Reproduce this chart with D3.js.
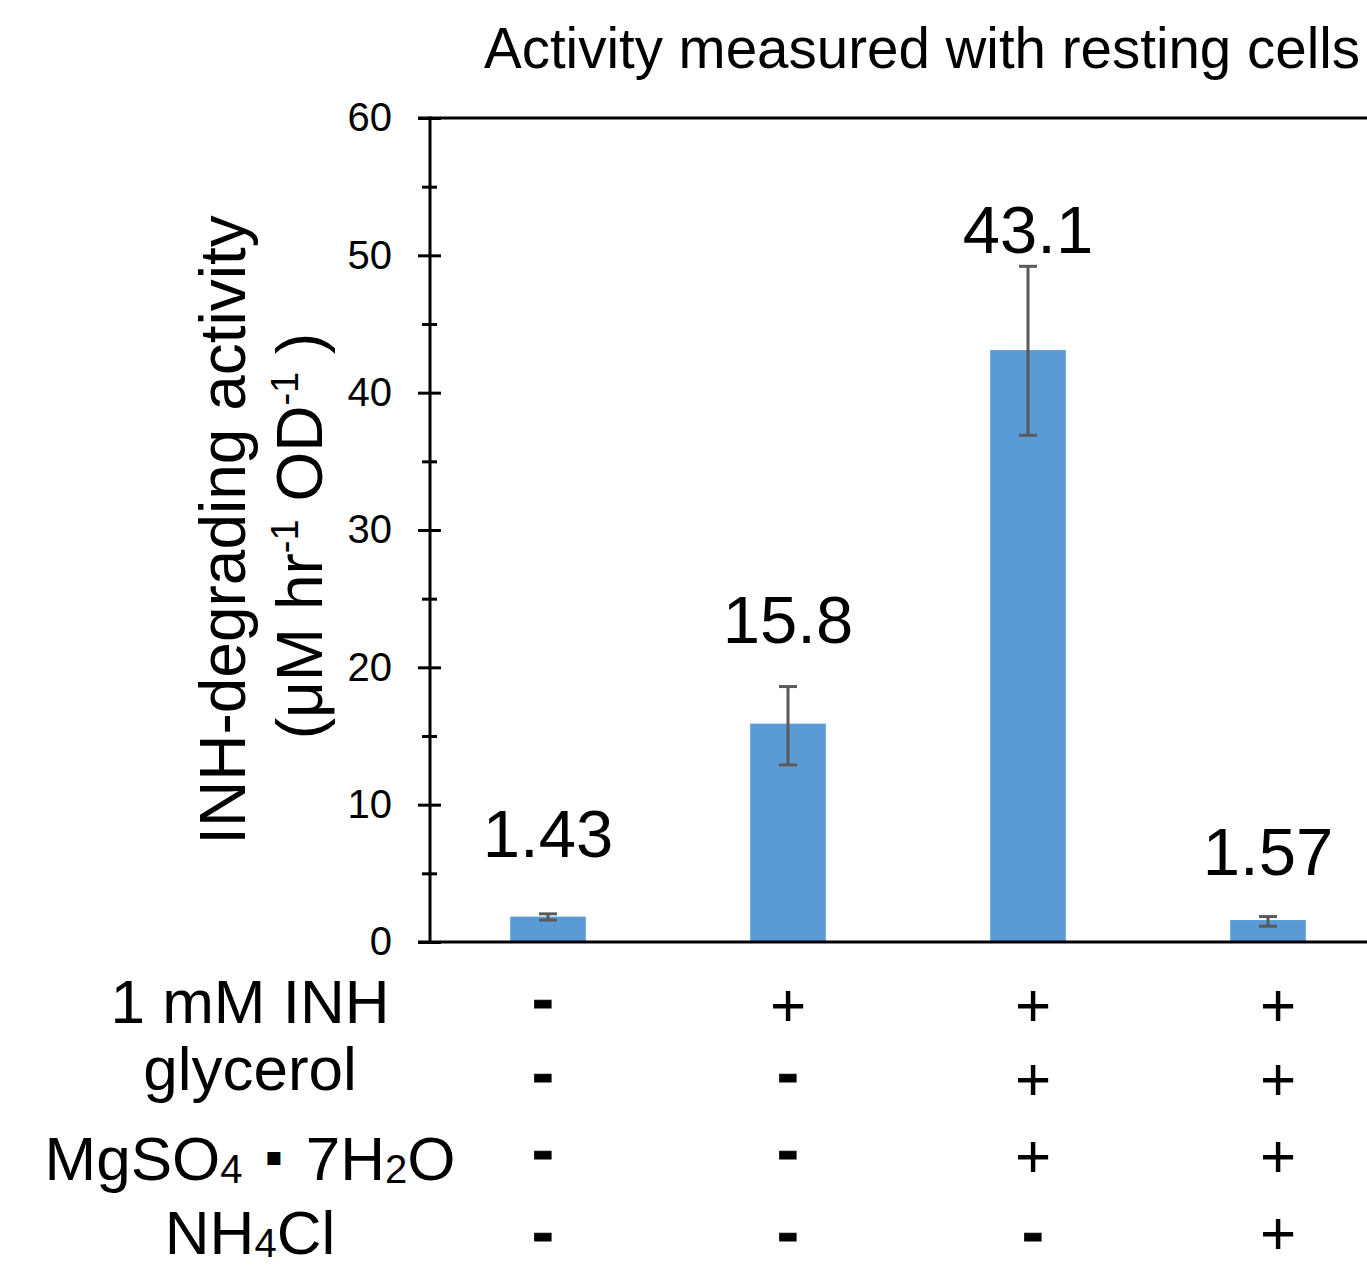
<!DOCTYPE html>
<html>
<head>
<meta charset="utf-8">
<script src="https://cdn.jsdelivr.net/npm/d3@7"></script>
<style>
  html, body { margin: 0; padding: 0; background: #fff; }
  svg { display: block; font-family: "Liberation Sans", Arial, sans-serif; }
</style>
</head>
<body>
<svg id="chart" width="1367" height="1268"></svg>
<script>
// ---- data ----
const categories = ["c1", "c2", "c3", "c4"];
const barValues = [1.85, 15.9, 43.1, 1.6];
const errLow = [1.6, 12.9, 36.9, 1.15];
const errHigh = [2.05, 18.6, 49.2, 1.85];
const valueLabels = ["1.43", "15.8", "43.1", "1.57"];
const valueLabelAt = [6.2, 21.8, 50.2, 4.9];
const yTicks = [0, 10, 20, 30, 40, 50, 60];
const yMinorTicks = [5, 15, 25, 35, 45, 55];
const conditionNames = [
  [{ t: "1 mM INH" }],
  [{ t: "glycerol" }],
  [{ t: "MgSO" }, { t: "4", sub: true }, { t: " ", gap: true }, { t: "\u25AA", dot: true }, { t: " ", gap: true }, { t: "7H" }, { t: "2", sub: true }, { t: "O" }],
  [{ t: "NH" }, { t: "4", sub: true }, { t: "Cl" }]
];
const conditionSigns = [
  ["-", "+", "+", "+"],
  ["-", "-", "+", "+"],
  ["-", "-", "+", "+"],
  ["-", "-", "-", "+"]
];
const titleText = "Activity measured with resting cells";

// ---- layout ----
const svg = d3.select("#chart");
const W = 1367, H = 1268;
const axisX = 430, yTop = 118, yBottom = 942;

const y = d3.scaleLinear().domain([0, 60]).range([yBottom, yTop]);
const x = d3.scaleBand().domain(categories).range([428, 1388]).paddingInner(0.685).paddingOuter(0.3425);
const signX = d3.scalePoint().domain(categories).range([543, 1278]);

// title
svg.append("text")
  .attr("x", 922).attr("y", 68)
  .attr("text-anchor", "middle")
  .attr("font-size", 56.5)
  .attr("fill", "#000")
  .text(titleText);

// bars
svg.append("g").selectAll("rect")
  .data(barValues)
  .join("rect")
  .attr("x", (d, i) => x(categories[i]))
  .attr("width", x.bandwidth())
  .attr("y", d => y(d))
  .attr("height", d => y(0) - y(d))
  .attr("fill", "#5B9BD5");

// error bars
const eg = svg.append("g").attr("stroke", "#595959").attr("stroke-width", 3);
categories.forEach((c, i) => {
  const cx = x(c) + x.bandwidth() / 2;
  eg.append("line").attr("x1", cx).attr("x2", cx).attr("y1", y(errLow[i])).attr("y2", y(errHigh[i]));
  eg.append("line").attr("x1", cx - 9).attr("x2", cx + 9).attr("y1", y(errLow[i])).attr("y2", y(errLow[i]));
  eg.append("line").attr("x1", cx - 9).attr("x2", cx + 9).attr("y1", y(errHigh[i])).attr("y2", y(errHigh[i]));
});

// value labels
svg.append("g").selectAll("text")
  .data(valueLabels)
  .join("text")
  .attr("x", (d, i) => x(categories[i]) + x.bandwidth() / 2)
  .attr("y", (d, i) => y(valueLabelAt[i]))
  .attr("text-anchor", "middle")
  .attr("font-size", 67)
  .attr("fill", "#000")
  .text(d => d);

// y axis
const axisG = svg.append("g")
  .attr("transform", `translate(${axisX},0)`)
  .call(d3.axisLeft(y).tickValues(yTicks).tickSize(12).tickPadding(26).tickFormat(d3.format("d")));
axisG.select(".domain").remove();
axisG.selectAll(".tick line").attr("x1", 11).attr("stroke", "#000").attr("stroke-width", 3);
axisG.selectAll(".tick text").attr("font-size", 40).attr("font-family", "Liberation Sans, Arial, sans-serif").attr("fill", "#000");

const minorG = svg.append("g")
  .attr("transform", `translate(${axisX},0)`)
  .call(d3.axisLeft(y).tickValues(yMinorTicks).tickSize(8).tickFormat(""));
minorG.select(".domain").remove();
minorG.selectAll(".tick line").attr("x1", 7).attr("stroke", "#000").attr("stroke-width", 3);

// axis frame lines
svg.append("line").attr("x1", axisX).attr("x2", axisX).attr("y1", yTop - 1.5).attr("y2", yBottom + 1.5)
  .attr("stroke", "#000").attr("stroke-width", 3);
svg.append("line").attr("x1", 418).attr("x2", W).attr("y1", y(60)).attr("y2", y(60))
  .attr("stroke", "#000").attr("stroke-width", 3);
svg.append("line").attr("x1", 418).attr("x2", W).attr("y1", y(0)).attr("y2", y(0))
  .attr("stroke", "#000").attr("stroke-width", 3);

// y axis title
svg.append("text")
  .attr("transform", "translate(245,530) rotate(-90)")
  .attr("text-anchor", "middle")
  .attr("font-size", 64)
  .attr("fill", "#000")
  .text("INH-degrading activity");

const t2 = svg.append("text")
  .attr("transform", "translate(322,536) rotate(-90)")
  .attr("text-anchor", "middle")
  .attr("font-size", 64)
  .attr("fill", "#000");
t2.append("tspan").text("(\u03BCM hr");
t2.append("tspan").attr("font-size", 38).attr("dy", -24).text("-1");
t2.append("tspan").attr("dy", 24).text(" OD");
t2.append("tspan").attr("font-size", 38).attr("dy", -24).text("-1");
t2.append("tspan").attr("dy", 24).text(" )");

// condition table
const rowBaselines = [1023, 1090, 1180, 1254];
const signRowCenters = [1005, 1079, 1156, 1238];
const maxBaseline = H - 14;

conditionNames.forEach((segs, r) => {
  const t = svg.append("text")
    .attr("x", 250).attr("y", rowBaselines[r])
    .attr("text-anchor", "middle")
    .attr("font-size", 62)
    .attr("fill", "#000");
  let shifted = 0;
  segs.forEach(s => {
    const sp = t.append("tspan").text(s.t);
    if (s.sub) {
      sp.attr("font-size", 40).attr("dy", 3 - shifted);
      shifted = 3;
    } else if (s.dot) {
      sp.attr("font-family", "DejaVu Sans").attr("font-size", 26).attr("dy", -15 - shifted);
      shifted = -15;
    } else {
      if (shifted !== 0) { sp.attr("dy", -shifted); shifted = 0; }
      if (s.gap) sp.attr("font-size", 82);
    }
  });
});

conditionSigns.forEach((row, r) => {
  svg.append("g").selectAll("text")
    .data(row)
    .join("text")
    .attr("x", (d, i) => signX(categories[i]))
    .attr("y", d => Math.min(signRowCenters[r] + (d === "-" ? 16 : 21), maxBaseline))
    .attr("text-anchor", "middle")
    .attr("font-size", d => d === "-" ? 64 : 62)
    .attr("font-weight", d => d === "-" ? "bold" : "normal")
    .attr("stroke", d => d === "-" ? "#000" : "none")
    .attr("stroke-width", 1.2)
    .attr("fill", "#000")
    .text(d => d);
});
</script>
</body>
</html>
